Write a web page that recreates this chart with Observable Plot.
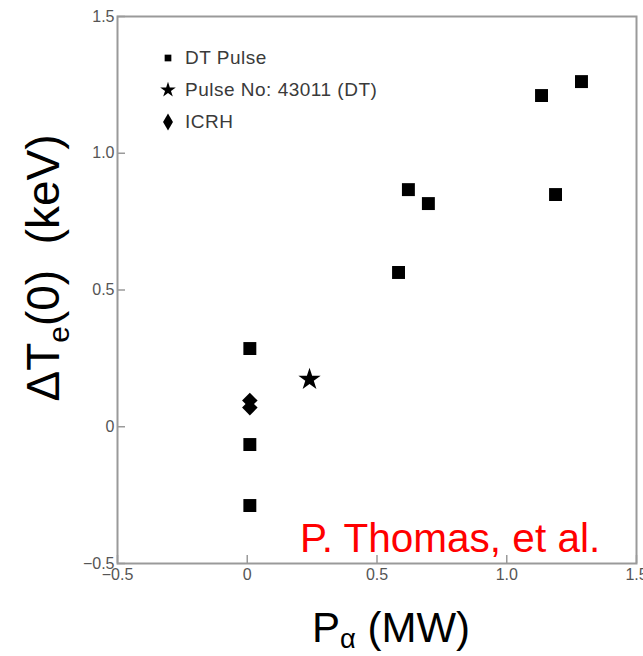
<!DOCTYPE html>
<html>
<head>
<meta charset="utf-8">
<script src="https://cdn.jsdelivr.net/npm/d3@7"></script>
<script src="https://cdn.jsdelivr.net/npm/@observablehq/plot@0.6"></script>
<style>
  body { margin: 0; background: #fff; }
  #wrap { position: relative; width: 643px; height: 656px; overflow: hidden; font-family: "Liberation Sans", Arial, sans-serif; }
  #wrap svg.plot { position: absolute; left: 0; top: 0; }
  #wrap svg.plot text { font-size: 16px !important; }
  .ylab { position: absolute; left: 47px; top: 268px; transform: translate(-50%, -50%) rotate(-90deg); font-size: 46px; white-space: nowrap; color: #000; line-height: 1; }
  .xlab { position: absolute; left: 391px; top: 630px; transform: translate(-50%, -50%); font-size: 42px; white-space: nowrap; color: #000; line-height: 1; }
  .xlab sub { vertical-align: -0.22em; }
  .cite { position: absolute; left: 300px; top: 518px; font-size: 40.5px; color: #ff0000; white-space: nowrap; line-height: 1; }
  .legend { position: absolute; left: 158px; top: 42px; font-size: 19px; letter-spacing: 0.5px; color: #3a3a3a; }
  .legend div { height: 32px; display: flex; align-items: center; }
  .legend svg { width: 20px; height: 20px; margin-right: 7px; }
  sub { font-size: 0.65em; }
</style>
</head>
<body>
<div id="wrap"></div>
<script>
// Data
const dtX = [0.01, 0.01, 0.01, 0.583, 0.621, 0.698, 1.134, 1.188, 1.288];
const dtY = [0.286, -0.065, -0.288, 0.564, 0.867, 0.816, 1.211, 0.849, 1.262];
const starX = [0.24];
const starY = [0.173];
const icrhX = [0.01, 0.01];
const icrhY = [0.096, 0.070];
const ticks = [-0.5, 0, 0.5, 1.0, 1.5];
const legendLabels = ["DT Pulse", "Pulse No: 43011 (DT)", "ICRH"];
const legendSymbols = ["square", "star", "diamond"];

const fmt = d => d === 0 ? "0" : (d < 0 ? "\u2212" + Math.abs(d).toFixed(1) : d.toFixed(1));

const dt = dtX.map((x, i) => ({x, y: dtY[i]}));
const star = starX.map((x, i) => ({x, y: starY[i]}));
const icrh = icrhX.map((x, i) => ({x, y: icrhY[i]}));

const chart = Plot.plot({
  width: 643,
  height: 656,
  marginLeft: 117,
  marginRight: 7,
  marginTop: 16,
  marginBottom: 93,
  style: {fontFamily: "'Liberation Sans', Arial, sans-serif", fontSize: "16px", background: "transparent"},
  x: {domain: [-0.5, 1.5]},
  y: {domain: [-0.5, 1.5]},
  marks: [
    Plot.frame({stroke: "#9a9a9a", strokeWidth: 2}),
    Plot.axisX({ticks, tickSize: 0, tickPadding: 5, tickFormat: fmt, fill: "#555", fontSize: 16, label: null}),
    Plot.axisX({ticks, tickSize: -8, text: null, stroke: "#9a9a9a", strokeWidth: 1.5, label: null}),
    Plot.axisY({ticks, tickSize: 0, tickPadding: 3, tickFormat: fmt, fill: "#555", fontSize: 16, label: null}),
    Plot.axisY({ticks, tickSize: -8, text: null, stroke: "#9a9a9a", strokeWidth: 1.5, label: null}),
    Plot.dot(dt, {x: "x", y: "y", symbol: "square", r: 7.3, fill: "#000", stroke: "none"}),
    Plot.dot(star, {x: "x", y: "y", symbol: "star", r: 7, fill: "#000", stroke: "none"}),
    Plot.dot(icrh, {x: "x", y: "y", symbol: "diamond2", r: 7, fill: "#000", stroke: "none"})
  ]
});
chart.classList.add("plot");
d3.select(chart).selectAll("text").attr("font-size", 16).style("font-size", "16px");
const wrap = document.getElementById("wrap");
wrap.appendChild(chart);

// Legend
const leg = document.createElement("div");
leg.className = "legend";
const symMap = {square: d3.symbolSquare, star: d3.symbolStar, diamond: d3.symbolDiamond};
legendLabels.forEach((lab, i) => {
  const row = document.createElement("div");
  const s = d3.create("svg").attr("viewBox", "-10 -10 20 20");
  s.append("path").attr("d", d3.symbol(symMap[legendSymbols[i]], i === 0 ? 45 : (i === 1 ? 75 : 85))()).attr("fill", "#000");
  row.appendChild(s.node());
  const t = document.createElement("span");
  t.textContent = lab;
  row.appendChild(t);
  leg.appendChild(row);
});
wrap.appendChild(leg);

const yl = document.createElement("div");
yl.className = "ylab";
yl.innerHTML = "\u0394T<sub>e</sub>(0)&nbsp;&nbsp;(keV)";
wrap.appendChild(yl);

const xl = document.createElement("div");
xl.className = "xlab";
xl.innerHTML = "P<sub>\u03b1</sub> (MW)";
wrap.appendChild(xl);

const c = document.createElement("div");
c.className = "cite";
c.textContent = "P. Thomas, et al.";
wrap.appendChild(c);
</script>
</body>
</html>
